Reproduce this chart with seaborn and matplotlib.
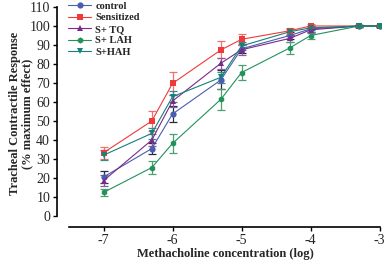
import matplotlib
matplotlib.use("Agg")
import matplotlib.pyplot as plt
import pandas as pd
import seaborn as sns

# log methacholine concentrations
log_conc = [-7, -6.3, -6, -5.3, -5, -4.3, -4, -3.3, -3]

control = [20.5, 35.5, 53.7, 71.6, 88, 95, 98.5, 100, 100]
sensitized = [33.3, 50, 69.8, 87.4, 93, 97.5, 100, 100, 100]
s_tq = [18.6, 40, 60.5, 80.4, 87.5, 93.5, 98, 100, 100]
s_lah = [12.4, 25.5, 38.2, 61.4, 75.5, 88.5, 95, 100, 100]
s_hah = [32, 43.5, 62.8, 73, 89.5, 97, 99, 100, 100]

err_control = [3, 3, 4, 5, 2, 2, 1.5, 0.5, 0.5]
err_sensitized = [3.2, 5.3, 6, 4.5, 3, 1.5, 1, 0.5, 0.5]
err_tq = [3, 3, 3, 3, 3, 2, 1.5, 0.5, 0.5]
err_lah = [2, 3.5, 5, 5.5, 4, 3, 2, 0.5, 0.5]
err_hah = [2.5, 3, 3, 3, 2, 1.5, 1, 0.5, 0.5]

groups = ["control", "Sensitized", "S+ TQ", "S+ LAH", "S+HAH"]
values = [control, sensitized, s_tq, s_lah, s_hah]
errors = [err_control, err_sensitized, err_tq, err_lah, err_hah]

colors = {"control": "#4a5db0", "Sensitized": "#f03a3a", "S+ TQ": "#7a2a8a",
          "S+ LAH": "#23915a", "S+HAH": "#16807a"}
err_colors = {"control": "#2a2a40", "Sensitized": "#f07070", "S+ TQ": "#8a5a9a",
              "S+ LAH": "#4aa070", "S+HAH": "#3a8a80"}
markers = {"control": "o", "Sensitized": "s", "S+ TQ": "^",
           "S+ LAH": "h", "S+HAH": "v"}

rows = []
for g, vals in zip(groups, values):
    for x, v in zip(log_conc, vals):
        rows.append({"conc": x, "resp": v, "group": g})
df = pd.DataFrame(rows)

sns.set_style("ticks")
plt.rcParams["font.family"] = ["Liberation Serif", "DejaVu Serif"]

fig = plt.figure(figsize=(3.87, 2.66), dpi=100)
ax = fig.add_axes([69 / 387, 50 / 266, 312 / 387, 209 / 266])

for g, vals, errs in zip(groups, values, errors):
    ax.errorbar(log_conc, vals, yerr=errs, fmt="none", ecolor=err_colors[g],
                elinewidth=0.9, capsize=3, capthick=0.9, zorder=2)

sns.lineplot(data=df, x="conc", y="resp", hue="group", style="group",
             hue_order=groups, style_order=groups, palette=colors,
             markers=markers, dashes=False, markersize=4.5, linewidth=0.8,
             markeredgewidth=0, ax=ax, zorder=3)

ax.set_xlim(-7.5, -2.98)
ax.set_ylim(0, 110)
ax.set_xticks([-7, -6, -5, -4, -3])
ax.set_xticklabels(["-7", "-6", "-5", "-4", "-3"], family="Liberation Sans", fontsize=7)
ax.set_yticks(range(0, 111, 10))
ax.set_yticklabels([str(v) for v in range(0, 111, 10)], family="Liberation Sans",
                   fontweight="bold", fontsize=7.8)

sns.despine(ax=ax)
ax.spines["left"].set_position(("outward", 8.6))
ax.spines["bottom"].set_position(("outward", 7.9))
ax.spines["bottom"].set_bounds(-7.5, -3)
for s in ["left", "bottom"]:
    ax.spines[s].set_linewidth(1.2)
    ax.spines[s].set_color("black")
ax.tick_params(axis="both", length=3, width=1, color="black", pad=2)

ax.set_xlabel("Methacholine concentration (log)", fontweight="bold", fontsize=9, labelpad=1)
ax.set_ylabel("Tracheal Contractile Response\n(% maximum effect)", fontweight="bold",
              fontsize=9, linespacing=1.0)
ax.yaxis.set_label_coords((33 - 69) / 312, 0.49)

leg = ax.legend(loc="upper left", bbox_to_anchor=(-0.019, 1.05), frameon=False,
                prop={"family": "Liberation Serif", "weight": "bold", "size": 7.5},
                handlelength=2.2, labelspacing=0.2, handletextpad=0.4, borderpad=0)

fig.savefig("out.png", dpi=100)
